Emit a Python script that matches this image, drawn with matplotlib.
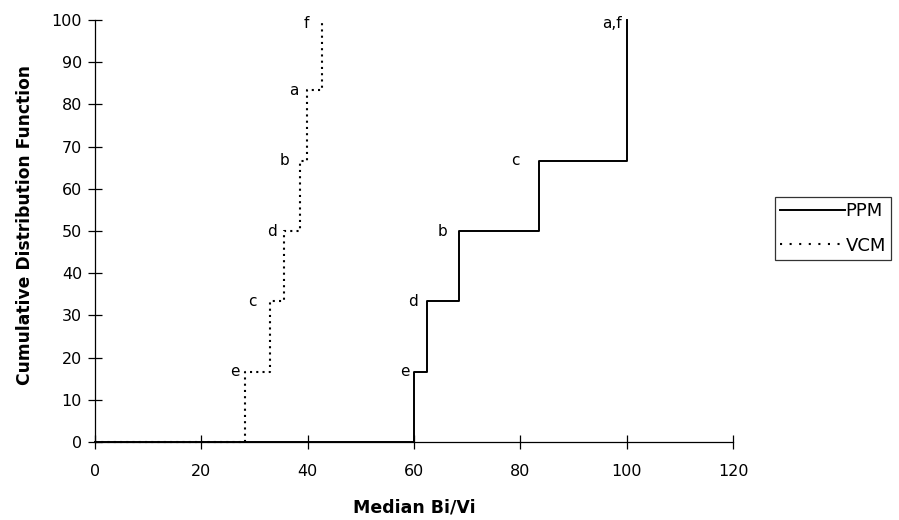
import matplotlib
matplotlib.use("Agg")
import matplotlib.pyplot as plt
from matplotlib.lines import Line2D

plt.rcParams['font.family'] = ['DejaVu Sans']

# Data
ppm_x = [0, 60, 62.5, 68.5, 83.5, 100]
ppm_y = [0, 16.67, 33.33, 50, 66.67, 100]
ppm_labels = ['e', 'd', 'b', 'c', 'a,f']
vcm_x = [0, 28.2, 32.9, 35.5, 38.6, 39.9, 42.7]
vcm_y = [0, 16.67, 33.33, 50, 66.67, 83.33, 100]
vcm_labels = ['e', 'c', 'd', 'b', 'a', 'f']
series_names = ['PPM', 'VCM']
x_ticks = [0, 20, 40, 60, 80, 100, 120]
y_ticks = [0, 10, 20, 30, 40, 50, 60, 70, 80, 90, 100]

fig = plt.figure(figsize=(8.99, 5.20), dpi=100)
ax = fig.add_axes([95/899, 1-442/520, (733-95)/899, (442-20)/520])

ax.step(ppm_x, ppm_y, where='post', color='black', lw=1.4,
        clip_on=False, zorder=3)
ax.step(vcm_x, vcm_y, where='post', color='black', lw=1.5,
        linestyle=(0, (1, 2)), clip_on=False, zorder=3)

px = 0.72  # points per pixel
ppm_off = [4, 9, 12, 19, 5]
for x, y, t, o in zip(ppm_x[1:], ppm_y[1:], ppm_labels, ppm_off):
    ax.annotate(t, (x, y), xytext=(-o * px, -4 * px if y == 100 else 0),
                textcoords='offset points', ha='right', va='center', fontsize=11)
vcm_off = [5, 13, 7, 11, 9, 13]
for x, y, t, o in zip(vcm_x[1:], vcm_y[1:], vcm_labels, vcm_off):
    ax.annotate(t, (x, y), xytext=(-o * px, -4 * px if y == 100 else 0),
                textcoords='offset points', ha='right', va='center', fontsize=11)

ax.set_xlim(0, 120)
ax.set_ylim(0, 100)
ax.set_xticks(x_ticks)
ax.set_yticks(y_ticks)
for s in ['top', 'right']:
    ax.spines[s].set_visible(False)
for s in ['left', 'bottom']:
    ax.spines[s].set_linewidth(0.9)
ax.tick_params(axis='both', direction='inout', length=10, width=0.9, labelsize=11.5)
ax.tick_params(axis='x', pad=11)
ax.tick_params(axis='y', pad=4.3)

ax.set_xlabel('Median Bi/Vi', fontsize=12.5, fontweight='bold')
ax.set_ylabel('Cumulative Distribution Function', fontsize=12.3, fontweight='bold')
ax.xaxis.set_label_coords(0.5, -0.135)
ax.yaxis.set_label_coords(-0.096, 0.514)

handles = [Line2D([], [], color='black', lw=1.4),
           Line2D([], [], color='black', lw=1.5, linestyle=(0, (1, 3.6)))]
leg = fig.legend(handles, series_names, loc='upper left',
                 bbox_to_anchor=(775/899, 1-197/520),
                 fontsize=13, frameon=True, fancybox=False, shadow=False,
                 handlelength=3.55, handletextpad=0.05, borderpad=0.3,
                 labelspacing=0.9, borderaxespad=0)
leg.get_frame().set_edgecolor('black')
leg.get_frame().set_linewidth(0.9)

fig.savefig('out.png', dpi=100)
